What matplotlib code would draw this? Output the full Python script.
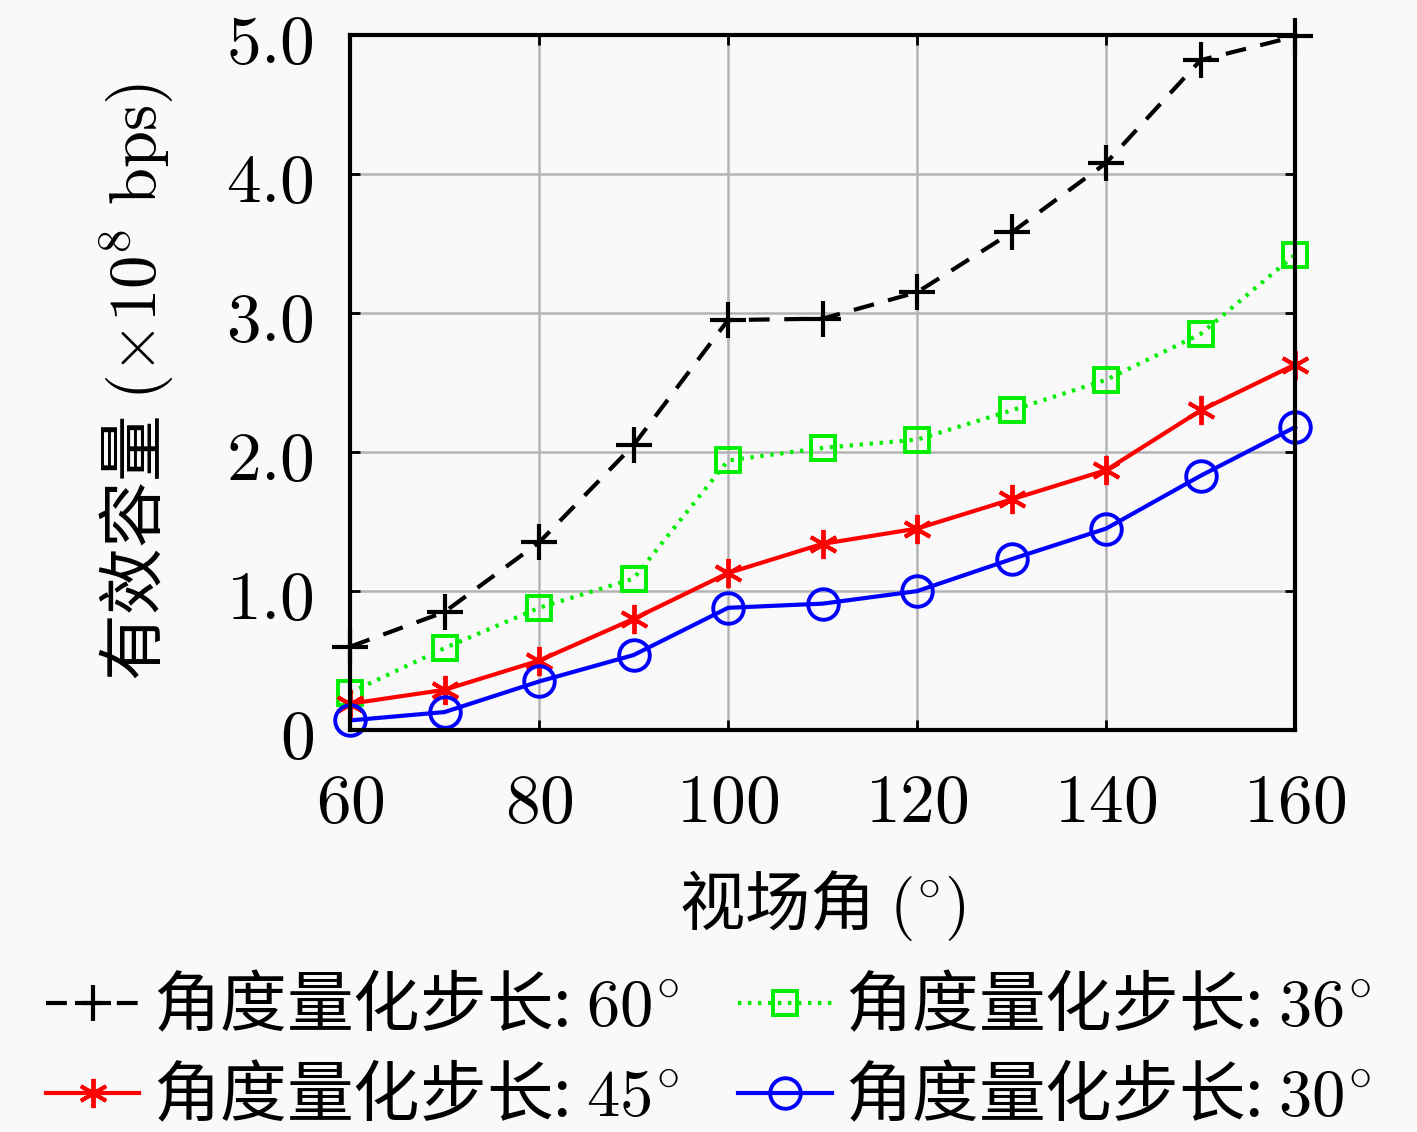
import numpy as np
import matplotlib
matplotlib.use('Agg')
import matplotlib.pyplot as plt

plt.rcParams['font.family'] = ['Noto Sans CJK SC', 'DejaVu Sans']
plt.rcParams['mathtext.fontset'] = 'cm'

# 视场角与四种量化步长下的有效容量
fov = [60, 70, 80, 90, 100, 110, 120, 130, 140, 150, 160]
cap_60 = [0.60, 0.85, 1.35, 2.05, 2.95, 2.96, 3.15, 3.58, 4.08, 4.82, 4.99]
cap_36 = [0.27, 0.59, 0.88, 1.09, 1.94, 2.03, 2.09, 2.30, 2.52, 2.85, 3.42]
cap_45 = [0.19, 0.29, 0.50, 0.80, 1.13, 1.34, 1.45, 1.66, 1.87, 2.30, 2.63]
cap_30 = [0.07, 0.13, 0.35, 0.54, 0.88, 0.91, 1.00, 1.23, 1.45, 1.83, 2.18]

xticks = [60, 80, 100, 120, 140, 160]
yticks = [0, 1, 2, 3, 4, 5]
ytick_labels = ['0', '1.0', '2.0', '3.0', '4.0', '5.0']

bg = '#f9f9f9'
fig = plt.figure(figsize=(14.17, 11.32), dpi=100, facecolor=bg)
ax = fig.add_axes([0.247, 0.355, 0.667, 0.614], facecolor=bg)

lw = 3.0
l1, = ax.plot(fov, cap_60, color='black', ls=(0, (5, 3.5)), lw=lw, marker='+',
              ms=26, mew=3.0, label='角度量化步长: $60^{\\circ}$', clip_on=False)
l2, = ax.plot(fov, cap_36, color='#00ee00', ls=(0, (0.8, 1.6)), lw=lw, marker='s',
              ms=17, mew=2.8, mfc='none', label='角度量化步长: $36^{\\circ}$',
              clip_on=False)
l3, = ax.plot(fov, cap_45, color='red', ls='-', lw=lw, marker=(6, 2, 0),
              ms=21, mew=2.8, label='角度量化步长: $45^{\\circ}$', clip_on=False)
l4, = ax.plot(fov, cap_30, color='blue', ls='-', lw=lw, marker='o',
              ms=22, mew=2.8, mfc='none', label='角度量化步长: $30^{\\circ}$',
              clip_on=False)

ax.set_xlim(60, 160)
ax.set_ylim(0, 5)
ax.set_xticks(xticks)
ax.set_xticklabels(['$%d$' % v for v in xticks])
ax.set_yticks(yticks)
ax.set_yticklabels(['$%s$' % s for s in ytick_labels])
ax.tick_params(direction='in', top=True, right=True, length=7, width=2,
               labelsize=50, pad=26)
ax.grid(True, color='#b4b4b4', lw=1.8)
for sp in ax.spines.values():
    sp.set_linewidth(3)

ax.set_xlabel('视场角 $(^{\\circ})$', fontsize=47, labelpad=22)
ax.set_ylabel('有效容量 $(\\times 10^{8}\\ \\mathrm{bps})$', fontsize=48, labelpad=36)

# 行优先排列: 第一行 60°、36°，第二行 45°、30°
fig.legend(handles=[l1, l3, l2, l4], ncol=2, loc='lower center',
           bbox_to_anchor=(0.5, -0.038), frameon=False, fontsize=48,
           handlelength=1.4, handletextpad=0.2, columnspacing=0.9,
           labelspacing=0.35, borderaxespad=0.25)

fig.savefig('out.png', dpi=100, facecolor=bg)
